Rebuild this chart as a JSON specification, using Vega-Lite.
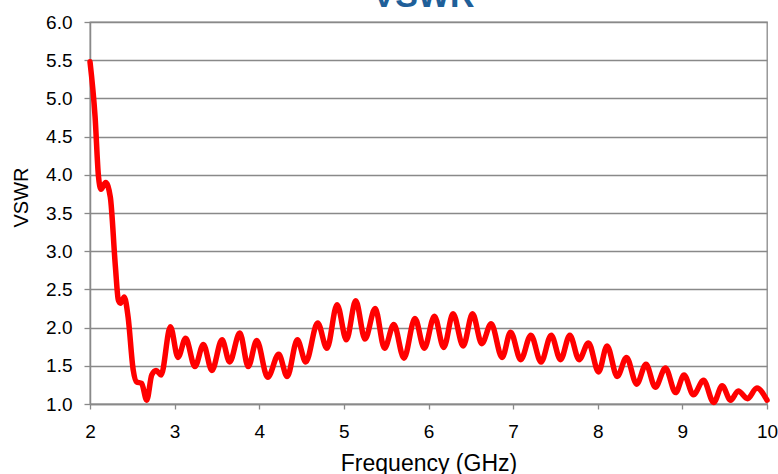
{
  "$schema": "https://vega.github.io/schema/vega-lite/v6.json",
  "width": 677,
  "height": 382,
  "autosize": {"type": "none"},
  "padding": {"left": 90, "top": 22, "right": 11, "bottom": 70},
  "background": "white",
  "config": {
    "view": {"stroke": "#898989", "strokeWidth": 1.3},
    "axis": {
      "labelFont": "Liberation Sans",
      "labelFontSize": 19,
      "labelColor": "#000000",
      "titleFont": "Liberation Sans",
      "titleFontWeight": "normal",
      "titleColor": "#000000",
      "domainColor": "#898989",
      "domainWidth": 1.5,
      "tickColor": "#898989",
      "tickWidth": 1.3,
      "gridColor": "#898989",
      "gridWidth": 1.3,
      "gridOpacity": 1
    }
  },
  "data": {
    "values": [
      {"f": 2.00, "v": 5.48},
      {"f": 2.06, "v": 4.76},
      {"f": 2.10, "v": 3.98},
      {"f": 2.13, "v": 3.81},
      {"f": 2.185, "v": 3.90},
      {"f": 2.24, "v": 3.71},
      {"f": 2.30, "v": 2.80},
      {"f": 2.335, "v": 2.36},
      {"f": 2.36, "v": 2.32},
      {"f": 2.405, "v": 2.40},
      {"f": 2.45, "v": 2.14},
      {"f": 2.51, "v": 1.45},
      {"f": 2.55, "v": 1.29},
      {"f": 2.61, "v": 1.27},
      {"f": 2.67, "v": 1.05},
      {"f": 2.73, "v": 1.38},
      {"f": 2.78, "v": 1.44},
      {"f": 2.84, "v": 1.38},
      {"f": 2.95, "v": 2.01},
      {"f": 3.04, "v": 1.61},
      {"f": 3.13, "v": 1.86},
      {"f": 3.24, "v": 1.49},
      {"f": 3.34, "v": 1.78},
      {"f": 3.44, "v": 1.44},
      {"f": 3.56, "v": 1.84},
      {"f": 3.65, "v": 1.55},
      {"f": 3.77, "v": 1.93},
      {"f": 3.87, "v": 1.49},
      {"f": 3.97, "v": 1.83},
      {"f": 4.10, "v": 1.35},
      {"f": 4.23, "v": 1.65},
      {"f": 4.33, "v": 1.36},
      {"f": 4.45, "v": 1.84},
      {"f": 4.55, "v": 1.55},
      {"f": 4.69, "v": 2.06},
      {"f": 4.80, "v": 1.73},
      {"f": 4.92, "v": 2.30},
      {"f": 5.03, "v": 1.84},
      {"f": 5.14, "v": 2.35},
      {"f": 5.25, "v": 1.85},
      {"f": 5.37, "v": 2.25},
      {"f": 5.48, "v": 1.73},
      {"f": 5.59, "v": 2.04},
      {"f": 5.71, "v": 1.60},
      {"f": 5.84, "v": 2.12},
      {"f": 5.95, "v": 1.73},
      {"f": 6.07, "v": 2.15},
      {"f": 6.18, "v": 1.74},
      {"f": 6.29, "v": 2.18},
      {"f": 6.41, "v": 1.76},
      {"f": 6.52, "v": 2.18},
      {"f": 6.63, "v": 1.79},
      {"f": 6.74, "v": 2.05},
      {"f": 6.87, "v": 1.61},
      {"f": 6.97, "v": 1.94},
      {"f": 7.09, "v": 1.58},
      {"f": 7.21, "v": 1.90},
      {"f": 7.33, "v": 1.55},
      {"f": 7.45, "v": 1.90},
      {"f": 7.56, "v": 1.58},
      {"f": 7.67, "v": 1.90},
      {"f": 7.78, "v": 1.58},
      {"f": 7.89, "v": 1.80},
      {"f": 8.01, "v": 1.42},
      {"f": 8.11, "v": 1.76},
      {"f": 8.23, "v": 1.36},
      {"f": 8.34, "v": 1.61},
      {"f": 8.46, "v": 1.26},
      {"f": 8.57, "v": 1.52},
      {"f": 8.68, "v": 1.22},
      {"f": 8.80, "v": 1.47},
      {"f": 8.92, "v": 1.15},
      {"f": 9.02, "v": 1.38},
      {"f": 9.13, "v": 1.12},
      {"f": 9.25, "v": 1.31},
      {"f": 9.37, "v": 1.02},
      {"f": 9.47, "v": 1.24},
      {"f": 9.57, "v": 1.05},
      {"f": 9.66, "v": 1.17},
      {"f": 9.77, "v": 1.07},
      {"f": 9.88, "v": 1.21},
      {"f": 10.0, "v": 1.05}
    ]
  },
  "resolve": {"axis": {"x": "independent"}},
  "layer": [
    {
      "mark": {
        "type": "line",
        "color": "#FF0000",
        "strokeWidth": 5.5,
        "interpolate": "monotone",
        "strokeCap": "round",
        "strokeJoin": "round"
      },
      "encoding": {
        "x": {
          "field": "f",
          "type": "quantitative",
          "scale": {"domain": [2, 10], "nice": false, "zero": false},
          "axis": {
            "title": "Frequency (GHz)",
            "titleFontSize": 23,
            "titleBaseline": "alphabetic",
            "titleY": 66,
            "values": [2, 3, 4, 5, 6, 7, 8, 9, 10],
            "format": "d",
            "grid": false,
            "tickSize": 5,
            "labelBaseline": "alphabetic",
            "labelPadding": 28,
            "labelFlush": false,
            "labelOverlap": false
          }
        },
        "y": {
          "field": "v",
          "type": "quantitative",
          "scale": {"domain": [1, 6], "nice": false, "zero": false},
          "axis": {
            "title": "VSWR",
            "titleFontSize": 20,
            "titleBaseline": "alphabetic",
            "titleX": -63,
            "titleY": 175,
            "values": [1, 1.5, 2, 2.5, 3, 3.5, 4, 4.5, 5, 5.5, 6],
            "format": ".1f",
            "grid": true,
            "tickSize": 6,
            "labelPadding": 12,
            "labelFlush": false,
            "labelOverlap": false
          }
        }
      }
    },
    {
      "mark": {"type": "point", "opacity": 0},
      "encoding": {
        "x": {
          "field": "f",
          "type": "quantitative",
          "scale": {"domain": [2, 10], "nice": false, "zero": false},
          "axis": {
            "orient": "top",
            "title": "VSWR",
            "titleFontSize": 34,
            "titleFontWeight": "bold",
            "titleColor": "#1F5F99",
            "titleBaseline": "alphabetic",
            "titleX": 333,
            "titleY": -16,
            "labels": false,
            "ticks": false,
            "domain": false,
            "grid": false
          }
        }
      }
    }
  ]
}
